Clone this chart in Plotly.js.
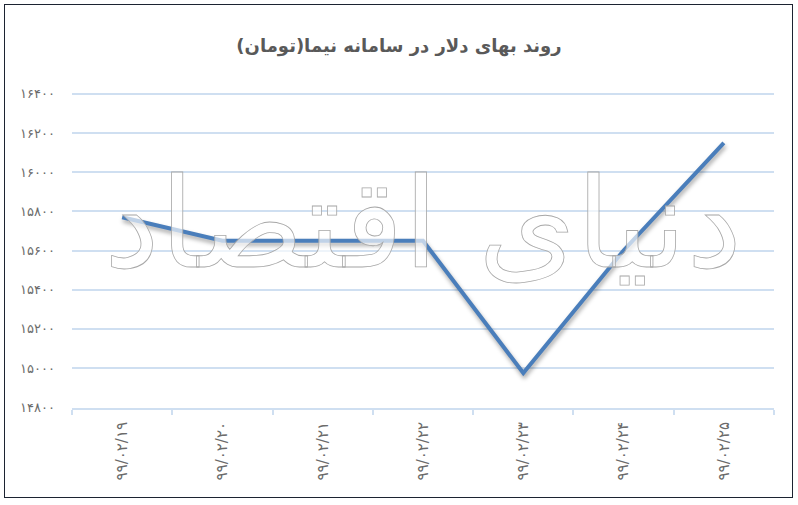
<!DOCTYPE html>
<html>
<head>
<meta charset="utf-8">
<script src="https://cdn.plot.ly/plotly-3.0.1.min.js"></script>
<style>
  body { margin: 0; background: #fff; }
  #wrap { position: relative; width: 798px; height: 505px; }
  #chart { width: 798px; height: 505px; }
  #frame { position: absolute; left: 4px; top: 4px; width: 787px; height: 492px;
           border: 1.5px solid #1c2331; pointer-events: none; }
  .scatterlayer .js-line { filter: drop-shadow(1px 3px 2px rgba(0,0,0,0.35)); }
  .annotation-text { stroke: #a8a8a8; stroke-width: 0.8px; }
</style>
</head>
<body>
<div id="wrap">
  <div id="chart"></div>
  <div id="frame"></div>
</div>
<script>
var dates = ["۹۹/۰۲/۱۹", "۹۹/۰۲/۲۰", "۹۹/۰۲/۲۱", "۹۹/۰۲/۲۲", "۹۹/۰۲/۲۳", "۹۹/۰۲/۲۴", "۹۹/۰۲/۲۵"];
var prices = [15770, 15650, 15650, 15650, 14975, 15600, 16150];

var yTicks = [14800, 15000, 15200, 15400, 15600, 15800, 16000, 16200, 16400];
var yTickLabels = ["۱۴۸۰۰", "۱۵۰۰۰", "۱۵۲۰۰", "۱۵۴۰۰", "۱۵۶۰۰", "۱۵۸۰۰", "۱۶۰۰۰", "۱۶۲۰۰", "۱۶۴۰۰"];

var CHART = document.getElementById("chart");

var data = [
    {
        x: dates,
        y: prices,
        mode: 'lines',
        type: 'scatter',
        line: { color: '#4a7ebb', width: 4 },
        hoverinfo: 'x+y',
    },
];

var grid = '#cfdff1';
var layout = {
    width: 798,
    height: 505,
    margin: { l: 72, r: 24, t: 84, b: 97 },
    paper_bgcolor: '#ffffff',
    plot_bgcolor: 'rgba(0,0,0,0)',
    font: { family: 'DejaVu Sans, sans-serif', size: 13, color: '#6b6b6b' },
    showlegend: false,
    title: {
        text: '<b>روند بهای دلار در سامانه نیما(تومان)</b>',
        font: { family: 'DejaVu Sans, sans-serif', size: 18, color: '#595959' },
        x: 0.5, xanchor: 'center',
        y: 0.91, yanchor: 'middle',
    },
    xaxis: {
        type: 'category',
        range: [-0.5, 6.5],
        tickangle: -90,
        showgrid: false,
        showline: true,
        linecolor: grid,
        linewidth: 2,
        ticks: 'outside',
        tickson: 'boundaries',
        ticklen: 5,
        tickcolor: grid,
        tickwidth: 2,
        ticklabelstandoff: 6,
        tickfont: { size: 15, color: '#6b6b6b' },
        fixedrange: true,
    },
    yaxis: {
        range: [14796, 16450],
        tickvals: yTicks,
        ticktext: yTickLabels,
        showgrid: true,
        gridcolor: grid,
        gridwidth: 2,
        zeroline: false,
        showline: false,
        ticklabelstandoff: 16,
        tickfont: { size: 13, color: '#6b6b6b' },
        fixedrange: true,
    },
    annotations: [
        {
            text: 'دنیای اقتصاد',
            xref: 'paper', yref: 'paper',
            x: 0.5, y: 0.57,
            showarrow: false,
            font: { family: 'DejaVu Sans, sans-serif', size: 125, color: 'rgba(255,255,255,0.65)' },
        },
    ],
};

var config = { responsive: false, displayModeBar: false };
Plotly.newPlot(CHART, data, layout, config);
</script>
</body>
</html>
